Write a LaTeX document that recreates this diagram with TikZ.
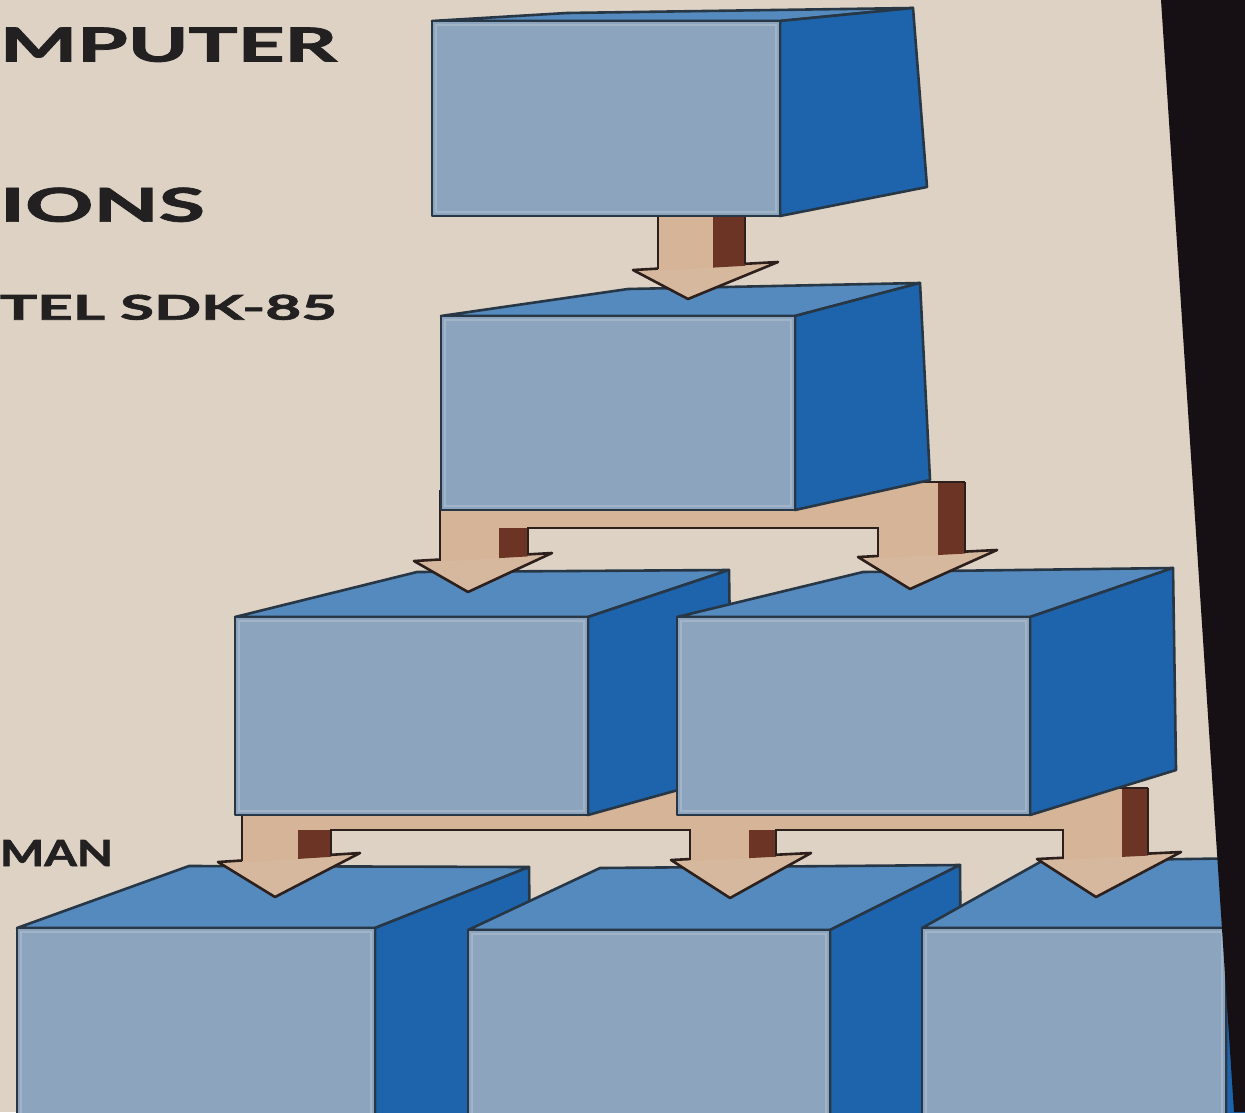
\documentclass[tikz,border=0pt]{standalone}
\usepackage{fontspec}
\setmainfont{Lato}
\newfontfamily\capfont{Lato}[BoldFeatures={FakeBold=1.6}]
\usepackage{graphicx}
\usetikzlibrary{fit}
\definecolor{bgcream}{RGB}{221,210,196}
\definecolor{frontblue}{RGB}{140,164,189}
\definecolor{frontlight}{RGB}{170,188,205}
\definecolor{topblue}{RGB}{84,138,190}
\definecolor{sideblue}{RGB}{30,100,172}
\definecolor{edgecol}{RGB}{40,55,70}
\definecolor{tanlight}{RGB}{214,180,152}
\definecolor{tanhead}{RGB}{214,184,158}
\definecolor{browndark}{RGB}{108,52,36}
\definecolor{arrowedge}{RGB}{45,32,28}
\definecolor{inkcol}{RGB}{34,32,32}
\definecolor{blackstrip}{RGB}{22,16,20}
\tikzset{
  boxedge/.style={draw=edgecol, line width=1.3pt, line join=round},
  frontface/.style={boxedge, fill=frontblue, inner sep=0pt, outer sep=0pt},
  topface/.style={boxedge, fill=topblue},
  sideface/.style={boxedge, fill=sideblue},
  fronthl/.style={draw=frontlight, line width=0.9pt, opacity=0.7},
  headshape/.style={fill=tanhead, draw=arrowedge, line width=1.3pt, line join=round},
  shaftlight/.style={fill=tanlight},
  shaftdark/.style={fill=browndark},
  arrowline/.style={draw=arrowedge, line width=1.1pt},
  captxt/.style={inner sep=0pt, outer sep=0pt, anchor=south west, text=inkcol, font=\capfont\bfseries},
}
% #1 name, #2 front top-left, #3 front bottom-right, #4 back-left top, #5 back-right top, #6 back-right bottom
\newcommand{\cubebox}[6]{%
  \coordinate (#1-tl) at #2;
  \coordinate (#1-br) at #3;
  \coordinate (#1-bl) at #4;
  \coordinate (#1-bk) at #5;
  \coordinate (#1-bb) at #6;
  \draw[topface] (#1-tl) -- (#1-bl) -- (#1-bk) -- (#1-br |- #1-tl) -- cycle;
  \draw[sideface] (#1-br |- #1-tl) -- (#1-bk) -- (#1-bb) -- (#1-br) -- cycle;
  \node[frontface, fit=(#1-tl)(#1-br)] (#1) {};
  \draw[fronthl] ([shift={(4,4)}]#1.north west) rectangle ([shift={(-4,-4)}]#1.south east);
}
\begin{document}
\begin{tikzpicture}[x=0.5pt,y=-0.5pt]
\useasboundingbox (0,0) rectangle (1245,1112);
\clip (0,0) rectangle (1245,1112);
\fill[bgcream] (0,0) rectangle (1245,1112);

% ---- bottom row
\cubebox{b5}{(17,928)}{(375,1150)}{(189,866)}{(529,867)}{(532,1150)}
\cubebox{b6}{(468,930)}{(830,1150)}{(600,868)}{(960,865)}{(962,1150)}
\cubebox{b7}{(922,928)}{(1226,1150)}{(1042,861)}{(1260,858)}{(1262,1150)}

% ---- connector 3 (row 2 -> row 3)
\fill[shaftlight] (242,788) rectangle (1122,830);
\coordinate (c3L) at (275,897);
\coordinate (c3M) at (730,898);
\coordinate (c3R) at (1096,897);
\draw[headshape] (218,862) -- (360,853) -- (c3L) -- cycle;
\draw[headshape] (671,860) -- (811,853) -- (c3M) -- cycle;
\draw[headshape] (1037,859) -- (1181,852) -- (c3R) -- cycle;
\fill[shaftlight] (242,830) -- (298,830) -- (298,858.9) -- (242,862.4) -- cycle;
\fill[shaftdark]  (298,830) -- (331,830) -- (331,856.8) -- (298,858.9) -- cycle;
\fill[shaftlight] (690,830) -- (749,830) -- (749,858.1) -- (690,861) -- cycle;
\fill[shaftdark]  (749,830) -- (776,830) -- (776,856.7) -- (749,858.1) -- cycle;
\fill[shaftlight] (1063,788) -- (1122,788) -- (1122,856.9) -- (1063,859.7) -- cycle;
\fill[shaftdark]  (1122,788) -- (1148,788) -- (1148,855.6) -- (1122,856.9) -- cycle;
\draw[arrowline] (242,788) -- (1148,788);
\draw[arrowline] (242,795) -- (242,861);
\draw[arrowline] (331,855.5) -- (331,830) -- (690,830) -- (690,859.5);
\draw[arrowline] (776,855.5) -- (776,830) -- (1063,830) -- (1063,858.5);
\draw[arrowline] (1148,788) -- (1148,854.5);

% ---- middle row
\cubebox{b3}{(235,617)}{(588,815)}{(417,572)}{(729,570)}{(732,775)}
\cubebox{b4}{(677,617)}{(1030,815)}{(863,572)}{(1173,568)}{(1176,770)}

% ---- connector 2 (b2 -> b3, b4)
\fill[shaftlight] (440,482) rectangle (938,528);
\coordinate (c2L) at (468,592);
\coordinate (c2R) at (910,589);
\draw[headshape] (414,561) -- (552,553) -- (c2L) -- cycle;
\draw[headshape] (858,557) -- (997,550) -- (c2R) -- cycle;
\fill[shaftlight] (440,528) -- (499,528) -- (499,558.1) -- (440,561.5) -- cycle;
\fill[shaftdark]  (499,528) -- (528,528) -- (528,556.4) -- (499,558.1) -- cycle;
\fill[shaftlight] (878,482) -- (938,482) -- (938,555) -- (878,558) -- cycle;
\fill[shaftdark]  (938,482) -- (965,482) -- (965,553.6) -- (938,555) -- cycle;
\draw[arrowline] (440,482) -- (965,482);
\draw[arrowline] (440,490) -- (440,560.5);
\draw[arrowline] (528,555) -- (528,528) -- (878,528) -- (878,557);
\draw[arrowline] (965,482) -- (965,552.5);

% ---- second box
\cubebox{b2}{(441,316)}{(795,510)}{(628,289)}{(920,283)}{(930,480)}

% ---- connector 1 (b1 -> b2)
\coordinate (c1) at (688,299);
\draw[headshape] (633,270) -- (778,262) -- (c1) -- cycle;
\fill[shaftlight] (658,205) -- (713,205) -- (713,267.6) -- (658,270.6) -- cycle;
\fill[shaftdark]  (713,205) -- (745,205) -- (745,265.8) -- (713,267.6) -- cycle;
\draw[arrowline] (658,205) -- (658,269);
\draw[arrowline] (745,205) -- (745,264.5);

% ---- top box
\cubebox{b1}{(432,21)}{(780,216)}{(567,13)}{(913,8)}{(927,187)}

% ---- texts
\node[captxt] (t1) at (0,62) {\resizebox{168.5pt}{17pt}{MPUTER}};
\node[captxt] (t2) at (0,222) {\resizebox{102.5pt}{17pt}{IONS}};
\node[captxt] (t3) at (0,320) {\resizebox{168.5pt}{12.5pt}{TEL SDK-85}};
\node[captxt] (t4) at (0,866) {\resizebox{56.5pt}{13pt}{MAN}};

% ---- dark edge at right
\fill[blackstrip] (1161,0) -- (1245,0) -- (1245,1112) -- (1234,1112) -- cycle;
\end{tikzpicture}
\end{document}
